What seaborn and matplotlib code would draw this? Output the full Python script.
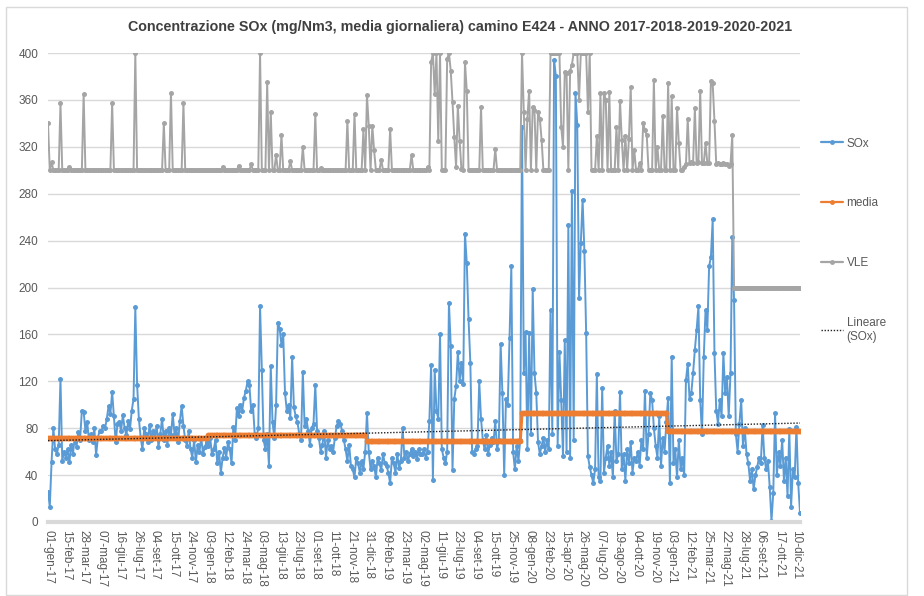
import numpy as np
import pandas as pd
import matplotlib
matplotlib.use("Agg")
import matplotlib.pyplot as plt
import seaborn as sns
from matplotlib.lines import Line2D
from matplotlib.patches import Rectangle

sns.set_style("white")
plt.rcParams["font.family"] = ["Liberation Sans", "DejaVu Sans"]

# === Data (10 samples per category label step) ===
date_labels = [
    "01-gen-17", "15-feb-17", "28-mar-17", "07-mag-17", "16-giu-17", "26-lug-17",
    "04-set-17", "15-ott-17", "24-nov-17", "03-gen-18", "12-feb-18", "24-mar-18",
    "03-mag-18", "13-giu-18", "23-lug-18", "01-set-18", "11-ott-18", "21-nov-18",
    "31-dic-18", "09-feb-19", "23-mar-19", "02-mag-19", "11-giu-19", "23-lug-19",
    "04-set-19", "15-ott-19", "25-nov-19", "08-gen-20", "23-feb-20", "15-apr-20",
    "26-mag-20", "07-lug-20", "19-ago-20", "04-ott-20", "19-nov-20", "03-gen-21",
    "12-feb-21", "25-mar-21", "22-mag-21", "28-lug-21", "06-set-21", "17-ott-21",
    "10-dic-21",
]

sox = [
    26, 13, 51, 80, 62, 58, 66, 122, 52, 60,
    55, 62, 51, 66, 58, 72, 64, 77, 70, 95,
    94, 78, 85, 70, 75, 68, 80, 57, 72, 78,
    78, 82, 80, 88, 99, 92, 111, 90, 68, 84,
    85, 78, 91, 80, 74, 86, 79, 95, 105, 183,
    117, 88, 72, 62, 80, 75, 68, 83, 70, 78,
    72, 82, 64, 75, 88, 70, 78, 66, 80, 74,
    92, 75, 80, 68, 86, 99, 82, 70, 65, 78,
    62, 55, 70, 51, 66, 60, 72, 58, 64, 68,
    65, 72, 58, 62, 70, 50, 60, 42, 55, 63,
    55, 68, 62, 50, 81, 70, 97, 90, 100, 95,
    106, 112, 120, 117, 95, 100, 75, 72, 80, 184,
    130, 70, 62, 75, 48, 133, 85, 72, 100, 170,
    165, 151, 160, 110, 95, 100, 89, 141, 98, 90,
    85, 75, 70, 128, 82, 88, 78, 66, 80, 84,
    117, 78, 72, 60, 66, 78, 55, 70, 62, 65,
    60, 72, 82, 86, 84, 78, 70, 62, 52, 66,
    48, 45, 38, 55, 50, 42, 52, 45, 60, 93,
    60, 45, 52, 48, 38, 55, 50, 44, 58, 50,
    48, 42, 33, 55, 50, 42, 58, 46, 52, 80,
    55, 60, 52, 58, 62, 56, 60, 54, 62, 58,
    58, 62, 55, 60, 86, 134, 36, 130, 95, 88,
    160, 62, 55, 50, 60, 187, 150, 44, 105, 116,
    145, 120, 136, 118, 246, 221, 173, 136, 60, 58,
    62, 65, 120, 88, 70, 62, 74, 58, 66, 72,
    68, 86, 62, 70, 152, 110, 40, 105, 100, 157,
    218, 60, 45, 65, 52, 70, 337, 127, 162, 62,
    161, 75, 199, 127, 110, 68, 58, 65, 72, 60,
    70, 62, 181, 75, 394, 380, 65, 145, 104, 56,
    155, 60, 253, 55, 282, 70, 366, 339, 191, 238,
    275, 231, 161, 56, 47, 40, 33, 45, 126, 38,
    35, 114, 42, 55, 65, 48, 60, 38, 95, 52,
    58, 111, 45, 58, 35, 62, 50, 68, 42, 55,
    52, 60, 48, 70, 62, 112, 55, 75, 110, 104,
    80, 65, 55, 90, 48, 72, 60, 85, 106, 33,
    141, 50, 62, 38, 70, 45, 55, 40, 121, 135,
    105, 110, 127, 147, 164, 184, 104, 75, 141, 181,
    164, 218, 226, 258, 144, 95, 84, 104, 90, 144,
    110, 124, 90, 127, 243, 189, 75, 60, 84, 104,
    65, 80, 58, 50, 35, 45, 28, 40, 47, 55,
    50, 83, 55, 45, 52, 30, 1, 25, 93, 40,
    60, 48, 70, 35, 55, 22, 79, 13, 45, 38,
    81, 33, 8,
]

vle = [
    340, 300, 307, 300, 300, 300, 300, 357, 300, 300,
    300, 300, 303, 300, 300, 300, 300, 300, 300, 300,
    365, 300, 300, 300, 300, 300, 300, 300, 300, 300,
    300, 300, 300, 300, 300, 300, 357, 300, 300, 300,
    300, 300, 300, 300, 300, 300, 300, 300, 300, 400,
    300, 300, 300, 300, 300, 300, 300, 300, 300, 300,
    300, 300, 300, 300, 300, 340, 300, 300, 300, 366,
    300, 300, 300, 300, 300, 300, 357, 300, 300, 300,
    300, 300, 300, 300, 300, 300, 300, 300, 300, 300,
    300, 300, 300, 300, 300, 300, 300, 300, 303, 300,
    300, 300, 300, 300, 300, 300, 300, 304, 300, 300,
    300, 300, 300, 300, 305, 300, 300, 300, 300, 400,
    300, 300, 300, 375, 300, 350, 300, 300, 313, 300,
    300, 330, 300, 300, 300, 300, 308, 300, 300, 300,
    300, 300, 300, 320, 300, 300, 300, 300, 300, 300,
    348, 300, 300, 302, 300, 300, 300, 300, 300, 300,
    300, 300, 300, 300, 300, 300, 300, 300, 342, 300,
    300, 300, 348, 300, 300, 300, 300, 335, 300, 364,
    338, 300, 338, 317, 300, 300, 300, 309, 300, 300,
    300, 300, 335, 300, 300, 300, 300, 300, 300, 300,
    300, 300, 300, 300, 313, 300, 300, 300, 300, 300,
    300, 300, 300, 303, 300, 392, 400, 365, 400, 325,
    400, 300, 300, 300, 395, 400, 385, 358, 328, 303,
    355, 325, 301, 300, 392, 368, 300, 300, 300, 300,
    300, 300, 300, 354, 300, 300, 300, 300, 300, 300,
    300, 318, 300, 300, 300, 300, 300, 300, 300, 300,
    300, 300, 300, 300, 300, 300, 400, 350, 300, 344,
    368, 300, 354, 351, 300, 350, 344, 326, 300, 300,
    300, 300, 400, 400, 400, 400, 400, 400, 337, 320,
    384, 383, 300, 385, 390, 400, 400, 400, 360, 400,
    400, 400, 400, 350, 400, 300, 300, 300, 329, 300,
    366, 300, 366, 360, 300, 367, 300, 300, 300, 337,
    300, 359, 326, 300, 329, 300, 327, 371, 300, 317,
    300, 300, 306, 300, 340, 334, 330, 300, 300, 300,
    377, 300, 320, 300, 300, 346, 300, 300, 374, 300,
    363, 300, 300, 353, 323, 300, 300, 303, 305, 344,
    306, 307, 306, 353, 306, 307, 368, 306, 306, 323,
    306, 306, 376, 374, 342, 305, 306, 305, 305, 306,
    305, 305, 304, 305, 330, 200, 200, 200, 200, 200,
    200, 200, 200, 200, 200, 200, 200, 200, 200, 200,
    200, 200, 200, 200, 200, 200, 200, 200, 200, 200,
    200, 200, 200, 200, 200, 200, 200, 200, 200, 200,
    200, 200, 200,
]

# yearly mean ("media") and number of samples in each year
media_year = [71.8, 74.5, 68.7, 92.8, 78.0]
year_len = [90, 89, 87, 82, 75]

STEP = 10  # samples between two category labels

BLUE = "#5B9BD5"
ORANGE = "#ED7D31"
GREY = "#A5A5A5"
TXT = "#595959"

df = pd.DataFrame({
    "i": np.arange(len(sox)),
    "SOx": sox,
    "VLE": vle,
    "media": np.repeat(media_year, year_len),
})

fig = plt.figure(figsize=(9.24, 5.96), dpi=100)
ax = fig.add_axes([48 / 924, 1 - 522 / 596, 752 / 924, 469 / 596])

sns.lineplot(data=df, x="i", y="SOx", ax=ax, color=BLUE, lw=1.4,
             marker="o", ms=3.6, mec=BLUE, mew=0, zorder=2)
sns.lineplot(data=df, x="i", y="media", ax=ax, color=ORANGE, lw=2.2,
             marker="o", ms=4.2, mec=ORANGE, mew=0, zorder=3)
sns.lineplot(data=df, x="i", y="VLE", ax=ax, color=GREY, lw=1.4,
             marker="o", ms=3.6, mec=GREY, mew=0, zorder=4)
# linear trend of SOx: the sampled points above over-weight the spikes,
# so the fit is done on the yearly means, which stand for all daily values
sns.regplot(data=df, x="i", y="media", ax=ax, scatter=False, ci=None,
            line_kws=dict(color="#222222", ls=(0, (1, 1.2)), lw=1.0, zorder=5))

ax.set_xlim(0, len(sox) - 1)
ax.set_ylim(0, 400)
ax.set_yticks(np.arange(0, 401, 40))
ax.set_xticks(np.arange(0, len(date_labels) * STEP, STEP))
ax.set_xticklabels(date_labels, rotation=-90, va="top", ha="center")
ax.tick_params(axis="x", length=0, pad=6, labelsize=8.5, labelcolor=TXT)
ax.tick_params(axis="y", length=0, pad=7, labelsize=8.5, labelcolor=TXT)
ax.yaxis.grid(True, color="#D9D9D9", lw=1)
ax.set_axisbelow(True)
ax.set_xlabel("")
ax.set_ylabel("")
for s in ["top", "right", "left"]:
    ax.spines[s].set_visible(False)
ax.spines["bottom"].set_color("#D9D9D9")
ax.spines["bottom"].set_linewidth(3)

fig.text(460 / 924, 1 - 27 / 596,
         "Concentrazione SOx (mg/Nm3, media giornaliera) camino E424 - ANNO 2017-2018-2019-2020-2021",
         ha="center", va="center", fontsize=10.3, fontweight="bold", color="#404040")

handles = [
    Line2D([], [], color=BLUE, lw=1.6, marker="o", ms=3.5, mew=0),
    Line2D([], [], color=ORANGE, lw=1.6, marker="o", ms=3.5, mew=0),
    Line2D([], [], color=GREY, lw=1.6, marker="o", ms=3.5, mew=0),
    Line2D([], [], color="#222222", lw=1.0, ls=(0, (1, 1.2))),
]
fig.legend(handles, ["SOx", "media", "VLE", "Lineare\n(SOx)"],
           loc="upper left", bbox_to_anchor=(810 / 924, 1 - 127 / 596),
           frameon=False, numpoints=1, handlelength=1.9, handletextpad=0.3,
           labelspacing=4.05, fontsize=8.5, labelcolor=TXT)

fig.add_artist(Rectangle((6 / 924, 1 / 596), 901 / 924, 588 / 596,
                         transform=fig.transFigure, fill=False,
                         edgecolor="#D9D9D9", lw=1))

fig.savefig("out.png", dpi=100)
